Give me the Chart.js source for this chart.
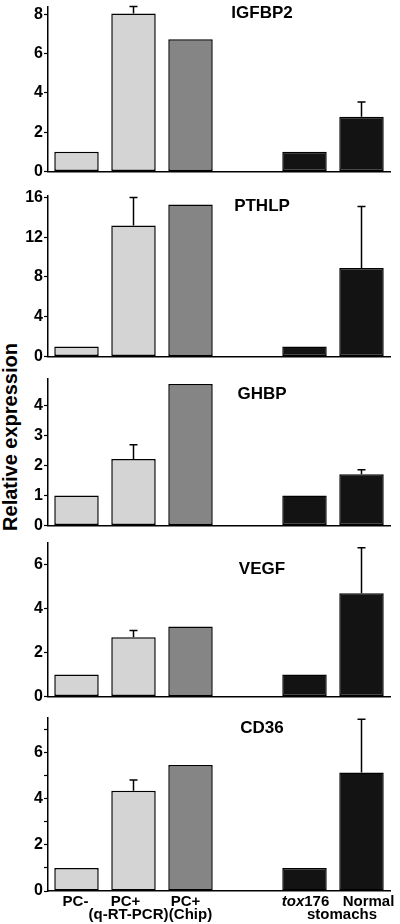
<!DOCTYPE html>
<html>
<head>
<meta charset="utf-8">
<script src="https://cdn.jsdelivr.net/npm/chart.js@4.4.0/dist/chart.umd.min.js"></script>
<style>
  body { margin: 0; background: #fff; width: 400px; height: 924px; position: relative; overflow: hidden; font-family: "Liberation Sans", Arial, sans-serif; }
  canvas { position: absolute; left: 0; }
  #ylabel { position: absolute; left: 10px; top: 437px; transform: translate(-50%, -50%) rotate(-90deg); font-weight: bold; font-size: 20px; white-space: nowrap; color: #000; }
</style>
</head>
<body>
<div id="ylabel">Relative expression</div>
<canvas id="igfbp2"></canvas>
<canvas id="pthlp"></canvas>
<canvas id="ghbp"></canvas>
<canvas id="vegf"></canvas>
<canvas id="cd36"></canvas>
<script>
const categories = ["PC-", "PC+ (q-RT-PCR)", "PC+ (Chip)", "", "tox176 stomachs", "Normal stomachs"];
const categoryLines = [["PC-"], ["PC+", "(q-RT-PCR)"], ["PC+", "(Chip)"], [], ["tox176"], ["Normal"]];
const sharedLabel = "stomachs";

const igfbp2Values = [1, 8.05, 6.73, null, 1, 2.78];
const igfbp2Errors = [0, 0.35, 0, 0, 0, 0.76];
const igfbp2Ticks = [0, 2, 4, 6, 8];

const pthlpValues = [1, 13.2, 15.3, null, 1, 8.9];
const pthlpErrors = [0, 2.8, 0, 0, 0, 6.2];
const pthlpTicks = [0, 4, 8, 12, 16];

const ghbpValues = [1, 2.22, 4.72, null, 1, 1.71];
const ghbpErrors = [0, 0.47, 0, 0, 0, 0.15];
const ghbpTicks = [0, 1, 2, 3, 4];

const vegfValues = [1, 2.69, 3.18, null, 1, 4.7];
const vegfErrors = [0, 0.31, 0, 0, 0, 2.06];
const vegfTicks = [0, 2, 4, 6];

const cd36Values = [1, 4.34, 5.45, null, 1, 5.13];
const cd36Errors = [0, 0.46, 0, 0, 0, 2.3];
const cd36Ticks = [0, 2, 4, 6];

const fontFamily = '"Liberation Sans", Arial, sans-serif';
const barColors = ["#d4d4d4", "#d4d4d4", "#858585", "#000", "#131313", "#131313"];
// horizontal nudges for the bottom labels, per line
const labelOffsets = [[-1], [-8, -5], [-5, 0], [], [1], [7]];
const sharedOffset = 9;

const errorBars = {
  id: "errorBars",
  afterDatasetsDraw(chart) {
    const ds = chart.data.datasets[0];
    const meta = chart.getDatasetMeta(0);
    const y = chart.scales.y;
    const ctx = chart.ctx;
    ctx.save();
    ctx.strokeStyle = "#000";
    ctx.lineWidth = 1.5;
    meta.data.forEach((bar, i) => {
      const err = ds.errors[i];
      if (!err) {
        return;
      }
      const yTop = y.getPixelForValue(ds.data[i] + err);
      ctx.beginPath();
      ctx.moveTo(bar.x, bar.y);
      ctx.lineTo(bar.x, yTop);
      ctx.moveTo(bar.x - 4, yTop);
      ctx.lineTo(bar.x + 4, yTop);
      ctx.stroke();
    });
    ctx.restore();
  },
};

const panelTitle = {
  id: "panelTitle",
  afterDraw(chart, args, opts) {
    const ctx = chart.ctx;
    ctx.save();
    ctx.fillStyle = "#000";
    ctx.font = `bold 17px ${fontFamily}`;
    ctx.textAlign = "center";
    ctx.textBaseline = "alphabetic";
    ctx.fillText(opts.text, 262, chart.chartArea.top + opts.dy);
    ctx.restore();
  },
};

const bottomLabels = {
  id: "bottomLabels",
  afterDraw(chart, args, opts) {
    if (!opts.show) {
      return;
    }
    const ctx = chart.ctx;
    const x = chart.scales.x;
    const base = chart.chartArea.bottom;
    const font = `bold 15px ${fontFamily}`;
    const italic = `italic bold 15px ${fontFamily}`;
    ctx.save();
    ctx.fillStyle = "#000";
    ctx.textBaseline = "alphabetic";
    categoryLines.forEach((lines, i) => {
      lines.forEach((line, row) => {
        const cx = x.getPixelForValue(i) + labelOffsets[i][row];
        const y = base + 15 + row * 13;
        if (line.startsWith("tox")) {
          ctx.font = italic;
          const w1 = ctx.measureText("tox").width;
          ctx.font = font;
          const w2 = ctx.measureText(line.slice(3)).width;
          const left = cx - (w1 + w2) / 2;
          ctx.textAlign = "left";
          ctx.font = italic;
          ctx.fillText("tox", left, y);
          ctx.font = font;
          ctx.fillText(line.slice(3), left + w1, y);
        } else {
          ctx.textAlign = "center";
          ctx.font = font;
          ctx.fillText(line, cx, y);
        }
      });
    });
    const sx = (x.getPixelForValue(4) + x.getPixelForValue(5)) / 2 + sharedOffset;
    ctx.textAlign = "center";
    ctx.font = font;
    ctx.fillText(sharedLabel, sx, base + 28);
    ctx.restore();
  },
};

const panels = [
  { id: "igfbp2", title: "IGFBP2", values: igfbp2Values, errors: igfbp2Errors, ticks: igfbp2Ticks, top: 6, bottom: 172, max: 8.4, step: 1, dy: 11 },
  { id: "pthlp", title: "PTHLP", values: pthlpValues, errors: pthlpErrors, ticks: pthlpTicks, top: 195, bottom: 357, max: 16.2, step: 2, dy: 15 },
  { id: "ghbp", title: "GHBP", values: ghbpValues, errors: ghbpErrors, ticks: ghbpTicks, top: 378, bottom: 526, max: 4.9, step: 1, dy: 20 },
  { id: "vegf", title: "VEGF", values: vegfValues, errors: vegfErrors, ticks: vegfTicks, top: 542, bottom: 697, max: 7, step: 1, dy: 31 },
  { id: "cd36", title: "CD36", values: cd36Values, errors: cd36Errors, ticks: cd36Ticks, top: 717, bottom: 891, max: 7.5, step: 1, dy: 15 },
];

function createPanel(panel, isLast) {
  const canvas = document.getElementById(panel.id);
  const padTop = 10;
  const padBottom = isLast ? 33 : 10;
  canvas.width = 400;
  canvas.height = panel.bottom - panel.top + padTop + padBottom;
  canvas.style.top = `${panel.top - padTop}px`;
  return new Chart(canvas, {
    type: "bar",
    data: {
      labels: categories,
      datasets: [
        {
          data: panel.values,
          errors: panel.errors,
          backgroundColor: barColors,
          borderColor: "#000",
          borderWidth: 1.5,
          borderSkipped: false,
          barPercentage: 0.78,
          categoryPercentage: 1,
        },
      ],
    },
    options: {
      responsive: false,
      animation: false,
      layout: { padding: { top: padTop, bottom: padBottom, left: 0, right: 10 } },
      plugins: {
        legend: { display: false },
        tooltip: { enabled: false },
        panelTitle: { text: panel.title, dy: panel.dy },
        bottomLabels: { show: isLast },
      },
      scales: {
        x: {
          grid: { display: false, drawTicks: false },
          border: { color: "#000", width: 1.5 },
          ticks: { display: false },
          afterFit: (s) => {
            s.height = 0;
          },
        },
        y: {
          min: 0,
          max: panel.max,
          grid: { drawOnChartArea: false, tickLength: 4, tickColor: "#000", tickWidth: 1.2 },
          border: { color: "#000", width: 1.5 },
          ticks: {
            stepSize: panel.step,
            includeBounds: false,
            padding: 1,
            color: "#000",
            font: { family: fontFamily, size: 16, weight: "bold" },
            callback: (v) => (panel.ticks.includes(v) ? String(v) : ""),
          },
          afterFit: (s) => {
            s.width = 48;
          },
        },
      },
    },
    plugins: [errorBars, panelTitle, bottomLabels],
  });
}

panels.forEach((p, i) => createPanel(p, i === panels.length - 1));
</script>
</body>
</html>
